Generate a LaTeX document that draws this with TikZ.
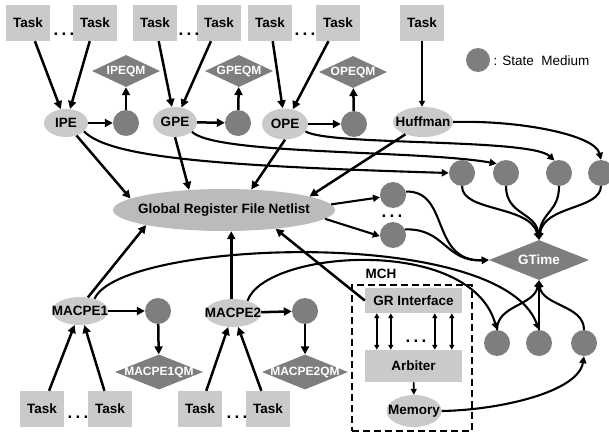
\documentclass[tikz,border=0pt]{standalone}
\usepackage{fontspec}
\setmainfont{Liberation Sans}
\usetikzlibrary{shapes.geometric,arrows.meta,calc}
\definecolor{lg}{HTML}{CACACA}
\definecolor{gr}{HTML}{BBBBBB}
\definecolor{dg}{HTML}{7E7E7E}
\newcommand\cbx[1]{\makebox[0pt]{#1}}
\newcommand\tdots{{\fontsize{17}{17}\selectfont .\hspace{3.2pt}.\hspace{3.2pt}.}}
\begin{document}
\begin{tikzpicture}[x=1pt,y=-1pt,font=\bfseries\fontsize{13.5}{15}\selectfont,
  task/.style={rectangle, fill=lg, minimum width=44pt, minimum height=36pt, inner sep=0pt},
  pe/.style={ellipse, fill=lg, inner sep=0pt},
  sm/.style={circle, fill=dg, minimum size=26pt, inner sep=0pt},
  qm/.style={diamond, fill=dg, text=white, inner sep=0pt, font=\bfseries\fontsize{12}{13}\selectfont},
  gbox/.style={rectangle, fill=lg, inner sep=0pt},
  arr/.style={line width=2.5pt, -{Triangle[length=8pt,width=8pt]}},
  carr/.style={line width=2.1pt, -{Triangle[length=7pt,width=7pt]}},
  tarr/.style={line width=1.6pt, -{Triangle[length=6pt,width=6pt]}},
  darr/.style={line width=1.7pt, {Triangle[length=5pt,width=5pt]}-{Triangle[length=5pt,width=5pt]}},
  dotn/.style={inner sep=0pt}
]
\useasboundingbox (0,0) rectangle (609,436);

% top tasks
\node[task] (T1) at (28,23) {Task};
\node[task] (T2) at (95,23) {Task};
\node[task] (T3) at (155,23) {Task};
\node[task] (T4) at (219,23) {Task};
\node[task] (T5) at (270,23) {Task};
\node[task] (T6) at (338,23) {Task};
\node[task] (T7) at (422,23) {Task};
\node[dotn, anchor=base] (dt1) at (64,36) {\tdots};
\node[dotn, anchor=base] (dt2) at (189,36) {\tdots};
\node[dotn, anchor=base] (dt3) at (305,36) {\tdots};

% legend
\node[sm, minimum size=24pt] (leg) at (478,60) {};
\node[anchor=west, font=\normalfont\fontsize{13.5}{15}\selectfont] (legt) at (490,61) {: State\ \ Medium};

% PEs
\node[pe, minimum width=44pt, minimum height=28pt] (IPE) at (66,123) {\cbx{IPE}};
\node[pe, minimum width=44pt, minimum height=30pt] (GPE) at (175,122) {\cbx{GPE}};
\node[pe, minimum width=46pt, minimum height=31pt] (OPE) at (285,124) {\cbx{OPE}};
\node[pe, minimum width=60pt, minimum height=30pt] (Huf) at (423,122) {\cbx{Huffman}};
\node[sm] (ipec) at (126,123) {};
\node[sm] (gpec) at (238,123) {};
\node[sm] (opec) at (354,124) {};
\node[qm, minimum width=68pt, minimum height=32pt] (IPEQM) at (126,71) {\cbx{IPEQM}};
\node[qm, minimum width=68pt, minimum height=32pt] (GPEQM) at (239,71) {\cbx{GPEQM}};
\node[qm, minimum width=68pt, minimum height=32pt] (OPEQM) at (353,72) {\cbx{OPEQM}};

% global register file
\node[pe, fill=gr, minimum width=222pt, minimum height=42pt] (GRFN) at (224,210) {\cbx{Global Register File Netlist}};
\node[sm] (sc1) at (393,195) {};
\node[sm] (sc2) at (393,235) {};
\node[dotn, anchor=base] (dt4) at (392,217) {\tdots};

% top right state media
\node[sm] (c1) at (462,173) {};
\node[sm] (c2) at (506,173) {};
\node[sm] (c3) at (559,173) {};
\node[sm] (c4) at (601,173) {};
\node[qm, minimum width=100pt, minimum height=40pt, font=\bfseries\fontsize{13.5}{15}\selectfont] (GTime) at (539,260) {\cbx{GTime}};

% MACPEs
\node[pe, minimum width=56pt, minimum height=28pt] (MACPE1) at (80,311) {\cbx{MACPE1}};
\node[sm] (m1c) at (158,311) {};
\node[qm, minimum width=88pt, minimum height=35pt] (Q1) at (159,372) {\cbx{MACPE1QM}};
\node[pe, minimum width=56pt, minimum height=28pt] (MACPE2) at (233,313) {\cbx{MACPE2}};
\node[sm] (m2c) at (305,311) {};
\node[qm, minimum width=86pt, minimum height=35pt] (Q2) at (305,372) {\cbx{MACPE2QM}};
\node[task] (B1) at (42,409) {Task};
\node[task] (B2) at (110,409) {Task};
\node[task] (B3) at (200,409) {Task};
\node[task] (B4) at (268,409) {Task};
\node[dotn, anchor=base] (dt5) at (78,418) {\tdots};
\node[dotn, anchor=base] (dt6) at (237,418) {\tdots};

% MCH
\node (MCH) at (381,274) {MCH};
\node[draw, line width=1.8pt, dash pattern=on 7pt off 4pt, minimum width=120pt, minimum height=146pt, inner sep=0pt] (mchbox) at (412,358) {};
\node[gbox, minimum width=97pt, minimum height=25pt] (GRI) at (413.5,300.5) {GR Interface};
\node[gbox, minimum width=97pt, minimum height=32pt] (Arb) at (413.5,366) {Arbiter};
\node[pe, minimum width=55pt, minimum height=32pt] (Mem) at (414,411) {\cbx{Memory}};
\node[dotn, anchor=base] (dt7) at (416,342) {\tdots};

% bottom right state media
\node[sm] (b1) at (497,343) {};
\node[sm] (b2) at (539,343) {};
\node[sm] (b3) at (584,343) {};

% ---- connectors ----
\draw[arr] (T1) -- (IPE);
\draw[arr] (T2) -- (IPE);
\draw[arr] (T3) -- (GPE);
\draw[arr] (T4) -- (GPE);
\draw[arr] (T5) -- (OPE);
\draw[arr] (T6) -- (OPE);
\draw[tarr] (T7.south) -- (T7.south |- Huf.north);

\draw[arr] (IPE) -- (ipec);
\draw[arr] (GPE) -- (gpec);
\draw[arr] (OPE) -- (opec);
\draw[arr] (ipec) -- (IPEQM);
\draw[arr] (gpec) -- (GPEQM);
\draw[arr] (opec) -- (OPEQM);

\draw[arr] (IPE.-50) -- (GRFN.173);
\draw[arr] (GPE.south) -- (GRFN.150);
\draw[arr] (OPE.south) -- (GRFN.37);
\draw[arr] (Huf.-145) -- (GRFN.9);

\draw[carr] (IPE.-25) .. controls (110,158) and (220,166) .. (c1.west);
\draw[carr] (GPE.-30) .. controls (215,155) and (420,150) .. (c2.135);
\draw[carr] (OPE.-20) .. controls (330,146) and (530,138) .. (c3.110);
\draw[carr] (Huf.east) .. controls (520,120) and (595,135) .. (c4.north);

\draw[carr] (c1.south) .. controls (462,212) and (530,205) .. (GTime.north);
\draw[carr] (c2.south) .. controls (506,215) and (536,212) .. (GTime.north);
\draw[carr] (c3.south) .. controls (559,212) and (541,212) .. (GTime.north);
\draw[carr] (c4.south) .. controls (600,210) and (544,205) .. (GTime.north);

\draw[carr] (GRFN.3) -- (sc1.190);
\draw[carr] (GRFN.-5) -- (sc2.185);
\draw[carr] (sc1.15) .. controls (450,190) and (430,262) .. (GTime.west);
\draw[carr] (sc2.25) .. controls (445,228) and (445,262) .. (GTime.west);

\draw[arr] (MACPE1.60) -- (GRFN.191);
\draw[arr] (MACPE2.97) -- (MACPE2.97 |- GRFN.south);
\draw[arr] (GRI.west) -- (GRFN.340);

\draw[arr] (MACPE1) -- (m1c);
\draw[arr] (m1c) -- (Q1);
\draw[arr] (MACPE2) -- (m2c);
\draw[arr] (m2c) -- (Q2);
\draw[arr] (B1) -- (MACPE1);
\draw[arr] (B2) -- (MACPE1);
\draw[arr] (B3) -- (MACPE2);
\draw[arr] (B4) -- (MACPE2);

\draw[carr] (MACPE1.40) .. controls (120,240) and (500,225) .. (b2.north);
\draw[carr] (MACPE2.40) .. controls (265,250) and (470,235) .. (b1.north);

\draw[carr] (b1.north) .. controls (497,305) and (534,306) .. (GTime.south);
\draw[carr] (b2.north) -- (GTime.south);
\draw[carr] (b3.north) .. controls (584,305) and (542,306) .. (GTime.south);

\foreach \dx in {12,26,70,87}
  \draw[darr] ([xshift=\dx pt]GRI.south west) -- ([xshift=\dx pt]Arb.north west);
\draw[tarr] (Arb) -- (Mem);
\draw[carr] (Mem.east) .. controls (500,410) and (578,392) .. (b3.south);
\end{tikzpicture}
\end{document}
